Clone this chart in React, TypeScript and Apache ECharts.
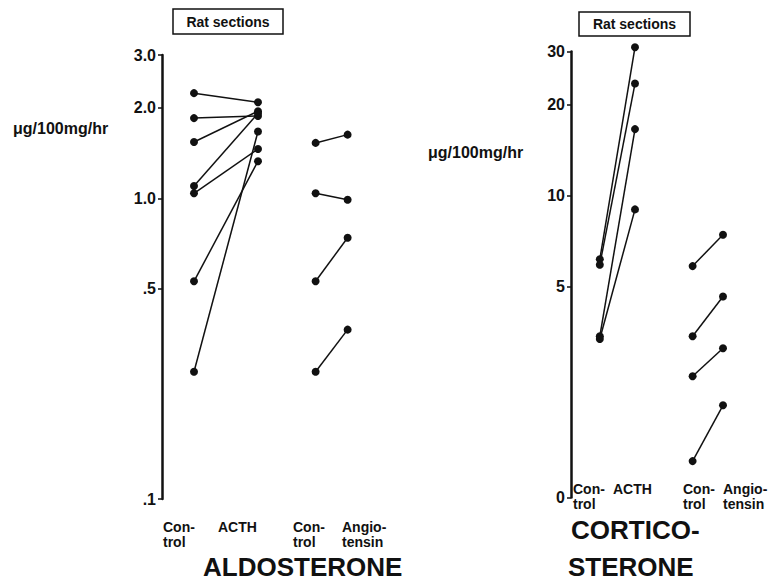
import React, { useEffect, useRef } from "react";
import * as echarts from "echarts";

// ---------- data ----------
const aldoCategories = ["Con-\ntrol", "ACTH", "Con-\ntrol", "Angio-\ntensin"];
const cortCategories = ["Con-\ntrol", "ACTH", "Con-\ntrol", "Angio-\ntensin"];

// Aldosterone, ACTH experiment (paired)
const aldoControlA = [2.24, 1.85, 1.54, 1.1, 1.04, 0.53, 0.265];
const aldoACTH = [2.09, 1.88, 1.95, 1.92, 1.46, 1.33, 1.67];
// Aldosterone, Angiotensin experiment (paired)
const aldoControlB = [1.53, 1.04, 0.53, 0.265];
const aldoAngio = [1.63, 0.99, 0.74, 0.366];

// Corticosterone, ACTH experiment (paired)
const cortControlA = [6.15, 5.9, 3.42, 3.35];
const cortACTH = [31, 23.5, 16.6, 9.0];
// Corticosterone, Angiotensin experiment (paired)
const cortControlB = [5.84, 3.42, 2.52, 1.32];
const cortAngio = [7.42, 4.63, 3.12, 2.02];

const aldoTicks = [0.1, 0.5, 1, 2, 3];
const aldoTickLabels = [".1", ".5", "1.0", "2.0", "3.0"];
const cortTicks = [1, 5, 10, 20, 30];
const cortTickLabels = ["0", "5", "10", "20", "30"];

const boxTitle = "Rat sections";
const unitLabel = "μg/100mg/hr";
const aldoTitle = "ALDOSTERONE";
const cortTitle = ["CORTICO-", "STERONE"];

// ---------- layout ----------
const INK = "#111";
const FONT = "Liberation Sans, Arial, sans-serif";
const aldoSlots = [1, 3, 4.8, 5.8];
const cortSlots = [0.9, 2, 3.8, 4.75];
const aldoLabelX = [163, 218, 293, 342];
const cortLabelX = [573, 613, 683, 723];

function pairSeries(
  ctrl: number[],
  treat: number[],
  xa: number,
  xb: number,
  axis: number,
  prefix: string
) {
  return ctrl.map((c, i) => ({
    name: `${prefix}-${i}`,
    type: "line",
    xAxisIndex: axis,
    yAxisIndex: axis,
    clip: false,
    data: [
      [xa, c],
      [xb, treat[i]],
    ],
    symbol: "circle",
    symbolSize: 8,
    itemStyle: { color: INK },
    lineStyle: { color: INK, width: 1.5 },
    silent: true,
  }));
}

function labelMap(ticks: number[], labels: string[]) {
  return (v: number) => {
    let best = 0;
    let d = Infinity;
    ticks.forEach((t, i) => {
      const dd = Math.abs(Math.log10(t) - Math.log10(v));
      if (dd < d) {
        d = dd;
        best = i;
      }
    });
    return labels[best];
  };
}

function yAxisCfg(min: number, max: number, ticks: number[], labels: string[], grid: number) {
  return {
    type: "log",
    logBase: 10,
    gridIndex: grid,
    min,
    max,
    axisLine: { show: true, lineStyle: { color: INK, width: 2.5 } },
    axisTick: {
      show: true,
      inside: false,
      length: 4,
      customValues: ticks,
      lineStyle: { color: INK, width: 1.5 },
    },
    axisLabel: {
      customValues: ticks,
      formatter: labelMap(ticks, labels),
      color: INK,
      fontFamily: FONT,
      fontWeight: "bold",
      fontSize: 16,
      margin: 6,
    },
    splitLine: { show: false },
    minorTick: { show: false },
  };
}

function catLabels(cats: string[], xs: number[], y: number) {
  return cats.map((c, i) => ({
    type: "text",
    style: {
      text: c,
      x: xs[i],
      y,
      fill: INK,
      font: `bold 14px ${FONT}`,
      lineHeight: 15,
      textVerticalAlign: "top",
    },
  }));
}

export default function App() {
  const ref = useRef<HTMLDivElement>(null);
  useEffect(() => {
    if (!ref.current) return;
    const chart = echarts.init(ref.current, null, { renderer: "svg" });
    const option = {
      animation: false,
      backgroundColor: "#fff",
      grid: [
        { left: 162, top: 55, width: 240, height: 444 },
        { left: 571, top: 51.5, width: 190, height: 446 },
      ],
      xAxis: [
        { type: "value", gridIndex: 0, min: 0, max: 7.5, show: false },
        { type: "value", gridIndex: 1, min: 0, max: 5.9375, show: false },
      ],
      yAxis: [
        yAxisCfg(0.1, 3, aldoTicks, aldoTickLabels, 0),
        yAxisCfg(1, 30, cortTicks, cortTickLabels, 1),
      ],
      series: [
        ...pairSeries(aldoControlA, aldoACTH, aldoSlots[0], aldoSlots[1], 0, "aA"),
        ...pairSeries(aldoControlB, aldoAngio, aldoSlots[2], aldoSlots[3], 0, "aB"),
        ...pairSeries(cortControlA, cortACTH, cortSlots[0], cortSlots[1], 1, "cA"),
        ...pairSeries(cortControlB, cortAngio, cortSlots[2], cortSlots[3], 1, "cB"),
      ],
      graphic: [
        {
          type: "rect",
          shape: { x: 173, y: 9, width: 110, height: 25 },
          style: { fill: "none", stroke: INK, lineWidth: 1.5 },
        },
        {
          type: "text",
          style: {
            text: boxTitle,
            x: 228,
            y: 21.5,
            fill: INK,
            font: `bold 14px ${FONT}`,
            textAlign: "center",
            textVerticalAlign: "middle",
          },
        },
        {
          type: "rect",
          shape: { x: 579, y: 12, width: 111, height: 24 },
          style: { fill: "none", stroke: INK, lineWidth: 1.5 },
        },
        {
          type: "text",
          style: {
            text: boxTitle,
            x: 634.5,
            y: 24,
            fill: INK,
            font: `bold 14px ${FONT}`,
            textAlign: "center",
            textVerticalAlign: "middle",
          },
        },
        {
          type: "text",
          style: {
            text: unitLabel,
            x: 13,
            y: 128,
            fill: INK,
            font: `bold 16px ${FONT}`,
            textVerticalAlign: "middle",
          },
        },
        {
          type: "text",
          style: {
            text: unitLabel,
            x: 428,
            y: 152,
            fill: INK,
            font: `bold 16px ${FONT}`,
            textVerticalAlign: "middle",
          },
        },
        ...catLabels(aldoCategories, aldoLabelX, 519),
        ...catLabels(cortCategories, cortLabelX, 481),
        {
          type: "text",
          style: {
            text: aldoTitle,
            x: 203,
            y: 567,
            fill: INK,
            font: `bold 26px ${FONT}`,
            textVerticalAlign: "middle",
          },
        },
        {
          type: "text",
          style: {
            text: cortTitle[0],
            x: 571,
            y: 530,
            fill: INK,
            font: `bold 26px ${FONT}`,
            textVerticalAlign: "middle",
          },
        },
        {
          type: "text",
          style: {
            text: cortTitle[1],
            x: 568,
            y: 567,
            fill: INK,
            font: `bold 26px ${FONT}`,
            textVerticalAlign: "middle",
          },
        },
      ],
    };
    chart.setOption(option as any);
    return () => chart.dispose();
  }, []);
  return <div ref={ref} style={{ width: 769, height: 582, position: "absolute", left: 0, top: 0 }} />;
}
